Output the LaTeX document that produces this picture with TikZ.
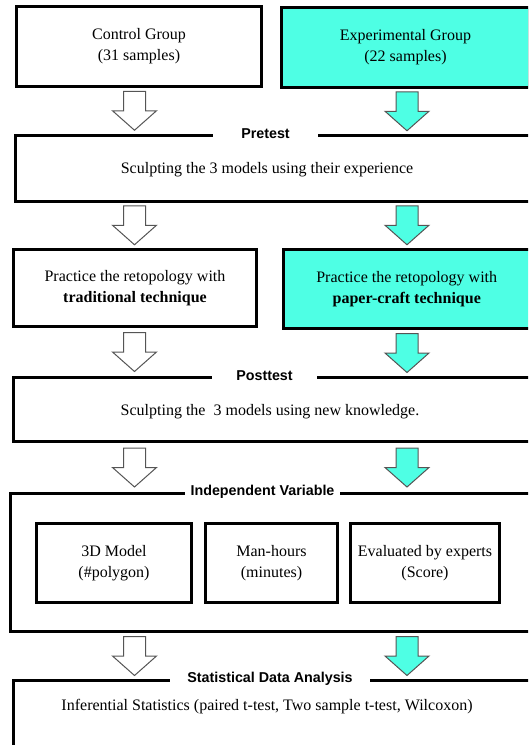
\documentclass[tikz,border=0pt]{standalone}
\usepackage{fontspec}
\setmainfont{Liberation Serif}
\newfontfamily\titlefont{Liberation Sans}
\usepackage{xcolor}
\usepackage{tikz}
\usetikzlibrary{calc, positioning}

\definecolor{aqua}{RGB}{78,255,228}
\definecolor{arrowgray}{RGB}{85,85,85}

\begin{document}
\begin{tikzpicture}[x=1pt, y=-1pt,
    box/.style={draw=black, line width=3pt, fill=white, align=center,
        inner sep=0pt, font=\fontsize{16}{21}\selectfont},
    expbox/.style={box, fill=aqua},
    boxtext/.style={align=center, inner sep=0pt, font=\fontsize{16}{21}\selectfont},
    grouptitle/.style={fill=white, inner sep=0pt, minimum height=16pt,
        font=\titlefont\bfseries\fontsize{14.3}{17}\selectfont},
    ctrlarrow/.style={draw=arrowgray, line width=1pt, fill=white},
    exparrow/.style={draw=arrowgray, line width=1pt, fill=aqua},
    blockarr/.pic={\path[pic actions] (-11,-19.5) -- (-11,0) -- (-22,0)
        -- (0,19.5) -- (22,0) -- (11,0) -- (11,-19.5) -- cycle;}
]

    % =================================================================
    % 1. KHUNG TRANG (cat mep phai va duoi nhu anh goc)
    % =================================================================
    \useasboundingbox (0,0) rectangle (528,745);
    \clip (0,0) rectangle (528,745);

    % =================================================================
    % 2. HAI NHOM
    % =================================================================
    \node[box, minimum width=245pt, minimum height=80pt] (ctrl) at (139,46.5)
        {Control Group\\(31 samples)};
    \node[expbox, minimum width=248pt, minimum height=80pt] (exp) at (405.5,47.5)
        {Experimental Group\\(22 samples)};

    % =================================================================
    % 3. PRETEST
    % =================================================================
    \node[box, minimum width=514.5pt, minimum height=66pt] (pre) at (272.75,168) {};
    \node[boxtext] (pretext) at (267,170) {Sculpting the 3 models using their experience};
    \node[grouptitle, minimum width=105pt] (pretitle) at (265.5,0 |- pre.north) {Pretest};

    % =================================================================
    % 4. LUYEN TAP RETOPOLOGY
    % =================================================================
    \node[box, minimum width=243pt, minimum height=77pt] (pracc) at (135,288)
        {Practice the retopology with\\\textbf{traditional technique}};
    \node[expbox, minimum width=246.5pt, minimum height=79pt] (prace) at (406.75,289)
        {Practice the retopology with\\\textbf{paper-craft technique}};

    % =================================================================
    % 5. POSTTEST
    % =================================================================
    \node[box, minimum width=516.5pt, minimum height=64pt] (post) at (271.75,409.5) {};
    \node[boxtext] (posttext) at (270,412) {Sculpting the\ \ 3 models using new knowledge.};
    \node[grouptitle, minimum width=105pt] (posttitle) at (264.5,0 |- post.north) {Posttest};

    % =================================================================
    % 6. BIEN DOC LAP
    % =================================================================
    \node[box, minimum width=519.5pt, minimum height=138pt] (indep) at (270.25,562.5) {};
    \node[grouptitle, minimum width=155pt] (indeptitle) at (262.5,0 |- indep.north)
        {Independent Variable};
    \node[box, minimum width=155pt, minimum height=79pt] (model) at (114,563)
        {3D Model\\(\#polygon)};
    \node[box, minimum width=132pt, minimum height=79pt] (hours) at (271.5,563)
        {Man-hours\\(minutes)};
    \node[box, minimum width=149pt, minimum height=79pt] (score) at (425,563)
        {Evaluated by experts\\(Score)};

    % =================================================================
    % 7. PHAN TICH THONG KE
    % =================================================================
    \node[box, minimum width=516.5pt, minimum height=71.5pt] (stat) at (271.75,716.25) {};
    \node[boxtext] (stattext) at (267,707)
        {Inferential Statistics (paired t-test, Two sample t-test, Wilcoxon)};
    \node[grouptitle, minimum width=200pt] (stattitle) at (270,0 |- stat.north)
        {Statistical Data Analysis};

    % =================================================================
    % 8. MUI TEN KHOI GIUA CAC BUOC
    % =================================================================
    \foreach \cu/\cd/\eu/\ed in {ctrl/pre/exp/pre, pre/pracc/pre/prace,
            pracc/post/prace/post, post/indep/post/indep, indep/stat/indep/stat} {
        \pic[ctrlarrow] at ($(134.5,0 |- \cu.south)!0.5!(134.5,0 |- \cd.north)$) {blockarr};
        \pic[exparrow] at ($(407,0 |- \eu.south)!0.5!(407,0 |- \ed.north)$) {blockarr};
    }

\end{tikzpicture}
\end{document}
